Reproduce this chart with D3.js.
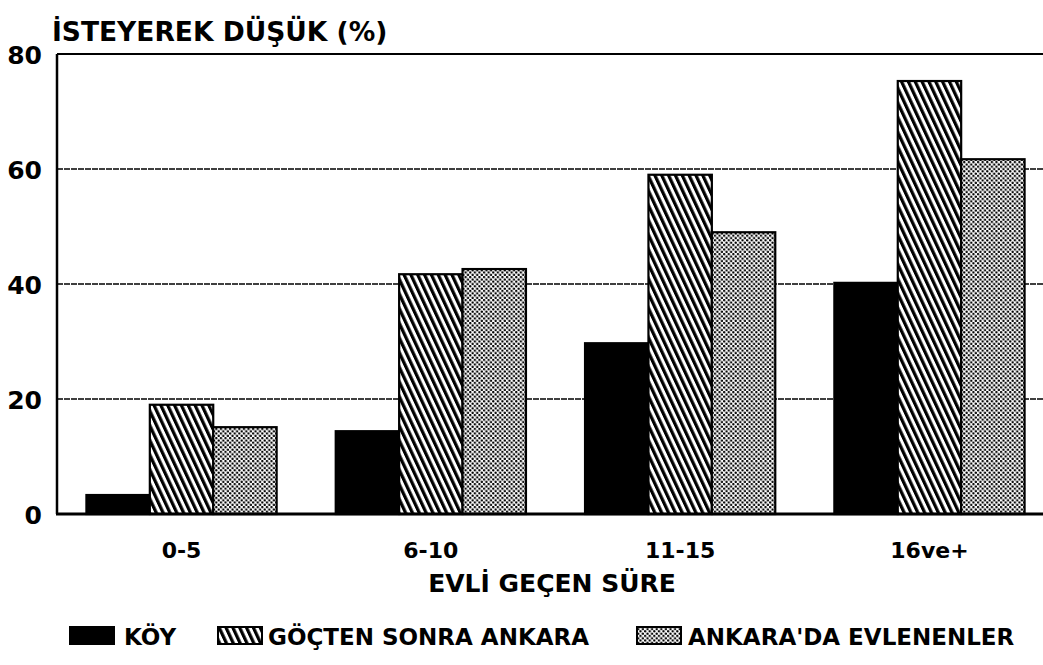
<!DOCTYPE html>
<html>
<head>
<meta charset="utf-8">
<script src="https://cdn.jsdelivr.net/npm/d3@7"></script>
<style>
  html, body { margin: 0; padding: 0; background: #fff; }
  svg { display: block; }
  text { font-family: "DejaVu Sans", "Liberation Sans", Arial, sans-serif; font-weight: bold; fill: #000; }
</style>
</head>
<body>
<script>
const categories = ["0-5", "6-10", "11-15", "16ve+"];
const seriesNames = ["KÖY", "GÖÇTEN SONRA ANKARA", "ANKARA'DA EVLENENLER"];
const koy = [3.3, 14.4, 29.7, 40.2];
const gocten = [19.0, 41.7, 59.0, 75.3];
const ankara = [15.1, 42.6, 49.0, 61.7];
const yTicks = [0, 20, 40, 60, 80];
const title = "İSTEYEREK DÜŞÜK (%)";
const xTitle = "EVLİ GEÇEN SÜRE";

const W = 1043, H = 665;
const FONT = "'DejaVu Sans', 'Liberation Sans', Arial, sans-serif";
const svg = d3.select("body").append("svg").attr("width", W).attr("height", H);

const defs = svg.append("defs");
const hatch = defs.append("pattern").attr("id", "hatch")
  .attr("patternUnits", "userSpaceOnUse").attr("width", 6.2).attr("height", 6.2)
  .attr("patternTransform", "rotate(-25)");
hatch.append("rect").attr("width", 6.2).attr("height", 6.2).attr("fill", "#fff");
hatch.append("rect").attr("x", 0).attr("y", 0).attr("width", 3.2).attr("height", 6.2).attr("fill", "#000");

const dots = defs.append("pattern").attr("id", "dots")
  .attr("patternUnits", "userSpaceOnUse").attr("width", 4.6).attr("height", 4.6);
dots.append("rect").attr("width", 4.6).attr("height", 4.6).attr("fill", "#fff");
dots.append("circle").attr("cx", 1.15).attr("cy", 1.15).attr("r", 1.2).attr("fill", "#000");
dots.append("circle").attr("cx", 3.45).attr("cy", 3.45).attr("r", 1.2).attr("fill", "#000");

const fills = ["#000", "url(#hatch)", "url(#dots)"];
const seriesData = [koy, gocten, ankara];

const x0 = d3.scaleBand().domain(categories).range([57, 1054]).paddingInner(0.237).paddingOuter(0.118);
const x1 = d3.scaleBand().domain(seriesNames).range([0, x0.bandwidth()]).padding(0);
const y = d3.scaleLinear().domain([0, 80]).range([514, 54]);

// gridlines
svg.append("g").selectAll("line").data(yTicks.filter(t => t > 0 && t < 80)).join("line")
  .attr("x1", 57).attr("x2", W).attr("y1", d => y(d)).attr("y2", d => y(d))
  .attr("stroke", "#000").attr("stroke-width", 1.6).attr("stroke-dasharray", "6,1");
svg.append("line").attr("x1", 57).attr("x2", W).attr("y1", y(80)).attr("y2", y(80))
  .attr("stroke", "#000").attr("stroke-width", 2);

// bars
const rows = categories.map((c, i) => ({ cat: c, vals: seriesNames.map((s, j) => ({ s, j, v: seriesData[j][i] })) }));
svg.append("g").selectAll("g").data(rows).join("g")
  .attr("transform", d => `translate(${x0(d.cat)},0)`)
  .selectAll("rect").data(d => d.vals).join("rect")
  .attr("x", d => x1(d.s)).attr("width", x1.bandwidth())
  .attr("y", d => y(d.v)).attr("height", d => y(0) - y(d.v))
  .attr("fill", d => fills[d.j]).attr("stroke", "#000").attr("stroke-width", 2.2);

// axes lines
svg.append("line").attr("x1", 57).attr("x2", 57).attr("y1", y(80)).attr("y2", y(0))
  .attr("stroke", "#000").attr("stroke-width", 2.5);
svg.append("line").attr("x1", 56).attr("x2", W).attr("y1", y(0)).attr("y2", y(0))
  .attr("stroke", "#000").attr("stroke-width", 3);

// y axis labels
const yAxis = svg.append("g").attr("transform", "translate(42,0)")
  .call(d3.axisLeft(y).tickValues(yTicks).tickSize(0).tickPadding(0));
yAxis.select(".domain").remove();
yAxis.selectAll("text").style("font-size", "25px").style("font-family", FONT)
  .style("font-weight", "bold").attr("dy", "0.36em");

// x axis labels
const xAxis = svg.append("g").attr("transform", `translate(0,${y(0) + 28})`)
  .call(d3.axisBottom(x0).tickSize(0).tickPadding(0));
xAxis.select(".domain").remove();
xAxis.selectAll("text").style("font-size", "22px").style("font-family", FONT)
  .style("font-weight", "bold").attr("dy", "0.72em");

// titles
svg.append("text").attr("x", 52).attr("y", 41).style("font-size", "26.5px").text(title);
svg.append("text").attr("x", 552).attr("y", 592).attr("text-anchor", "middle").style("font-size", "25px").text(xTitle);

// legend
const legendItems = [
  { name: seriesNames[0], fill: fills[0], bx: 70, tx: 124 },
  { name: seriesNames[1], fill: fills[1], bx: 218, tx: 268 },
  { name: seriesNames[2], fill: fills[2], bx: 637, tx: 688 }
];
const lg = svg.append("g").selectAll("g").data(legendItems).join("g");
lg.append("rect").attr("x", d => d.bx).attr("y", 627).attr("width", 44).attr("height", 17)
  .attr("fill", d => d.fill).attr("stroke", "#000").attr("stroke-width", 2);
lg.append("text").attr("x", d => d.tx).attr("y", 645).style("font-size", "23px").text(d => d.name);
</script>
</body>
</html>
